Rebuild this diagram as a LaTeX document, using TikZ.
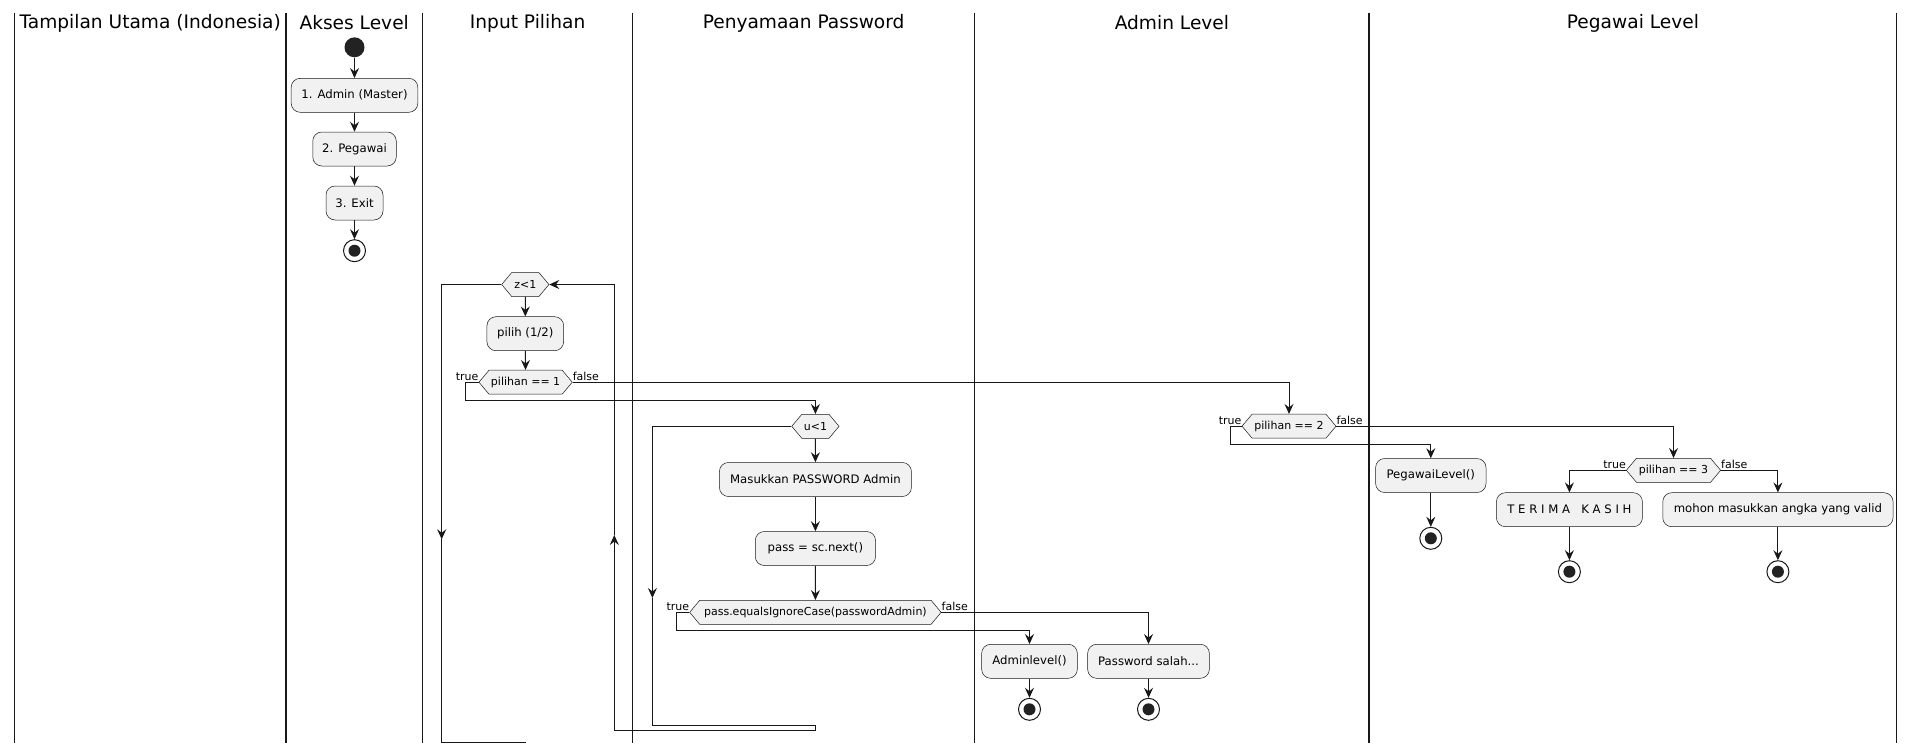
\documentclass[tikz,border=0pt]{standalone}
\usepackage{fontspec}
\setmainfont{DejaVu Sans}
\usetikzlibrary{arrows.meta,shapes.symbols}
\definecolor{plborder}{HTML}{181818}
\definecolor{plfill}{HTML}{F1F1F1}
\definecolor{pldot}{HTML}{222222}

\begin{document}
\begin{tikzpicture}[x=1pt, y=-1pt,
	every node/.style={font=\fontsize{11.7}{14}\selectfont, inner sep=0pt},
	action/.style={draw=plborder, line width=0.5pt, fill=plfill, rounded corners=9pt, minimum height=34pt},
	check/.style={signal, signal to=east and west, signal pointer angle=100, draw=plborder, line width=0.5pt, fill=plfill, minimum height=24pt, font=\fontsize{11}{13}\selectfont},
	lanetitle/.style={font=\fontsize{18.6}{22}\selectfont},
	branch/.style={font=\fontsize{11}{13}\selectfont},
	flow/.style={draw=plborder, line width=1pt, -{Stealth[length=10pt,width=9pt,inset=3.5pt]}},
	wire/.style={draw=plborder, line width=1pt},
	lane/.style={draw=plborder, line width=1.5pt},
	begin/.style={circle, fill=pldot, minimum size=20pt},
	finish/.style={circle, draw=plborder, line width=1pt, fill=white, minimum size=22pt,
		path picture={\fill[pldot] (path picture bounding box.center) circle (6pt);}},
	]

    \useasboundingbox (0,0) rectangle (1915,753);

    \foreach \lx in {14.7,285.8,422.6,632.6,974.6,1369.1,1896.7}
	\draw[lane] (\lx,12.7) -- (\lx,742.5);

    \node[lanetitle] (tutama) at (150.2,23) {Tampilan Utama (Indonesia)};
    \node[lanetitle] (takses) at (354.2,23) {Akses Level};
    \node[lanetitle] (tinput) at (527.6,23) {Input Pilihan};
    \node[lanetitle] (tpass) at (803.6,23) {Penyamaan Password};
    \node[lanetitle] (tadmin) at (1171.9,23) {Admin Level};
    \node[lanetitle] (tpegawai) at (1632.9,23) {Pegawai Level};

    \node[begin] (start) at (354.5,47.3) {};
    \node[action, minimum width=126.6pt] (admin) at (354.5,95.3) {1. Admin (Master)};
    \node[action, minimum width=83.5pt] (pegawai) at (354.5,149) {2. Pegawai};
    \node[action, minimum width=57pt] (exit) at (354.5,203) {3. Exit};
    \node[finish] (stopA) at (354.5,250.7) {};

    \draw[flow] (start) -- (admin);
    \draw[flow] (admin) -- (pegawai);
    \draw[flow] (pegawai) -- (exit);
    \draw[flow] (exit) -- (stopA);

    \node[check, minimum width=47.3pt] (zloop) at (525.3,284.5) {z<1};
    \node[action, minimum width=76.7pt] (pilih) at (525.3,333.7) {pilih (1/2)};
    \node[check, minimum width=93.3pt] (pil1) at (525.6,382.2) {pilihan == 1};
    \node[branch, anchor=base east] (t1) at ([yshift=2pt]pil1.west) {true};
    \node[branch, anchor=base west] (f1) at ([yshift=2pt]pil1.east) {false};

    \node[check, minimum width=47.3pt] (uloop) at (815.4,426.3) {u<1};
    \node[action, minimum width=192pt] (masuk) at (815.4,479.5) {Masukkan PASSWORD Admin};
    \node[action, minimum width=120.3pt] (next) at (815.4,548.5) {pass = sc.next()};
    \node[check, minimum width=251.5pt] (cek) at (815.4,612.3) {pass.equalsIgnoreCase(passwordAdmin)};
    \node[branch, anchor=base east] (t2) at ([yshift=2pt]cek.west) {true};
    \node[branch, anchor=base west] (f2) at ([yshift=2pt]cek.east) {false};

    \node[action, minimum width=95.7pt] (adminlvl) at (1029.5,661.3) {Adminlevel()};
    \node[action, minimum width=121.7pt] (salah) at (1148.5,661.3) {Password salah...};
    \node[finish] (stopB) at (1029.5,709.3) {};
    \node[finish] (stopC) at (1148.5,709.3) {};

    \node[check, minimum width=94pt] (pil2) at (1289,426.2) {pilihan == 2};
    \node[branch, anchor=base east] (t3) at ([yshift=2pt]pil2.west) {true};
    \node[branch, anchor=base west] (f3) at ([yshift=2pt]pil2.east) {false};
    \node[action, minimum width=110.4pt] (pegawailvl) at (1430.8,475.5) {PegawaiLevel()};
    \node[finish] (stopD) at (1430.8,538.3) {};

    \node[check, minimum width=94.3pt] (pil3) at (1673.5,470.3) {pilihan == 3};
    \node[branch, anchor=base east] (t4) at ([yshift=2pt]pil3.west) {true};
    \node[branch, anchor=base west] (f4) at ([yshift=2pt]pil3.east) {false};
    \node[action, minimum width=146pt] (terima) at (1569.4,509.7) {T E R I M A\ \ \ K A S I H};
    \node[action, minimum width=230.3pt] (mohon) at (1777.9,509.7) {mohon masukkan angka yang valid};
    \node[finish] (stopE) at (1569.4,571.7) {};
    \node[finish] (stopF) at (1777.9,571.7) {};

    \coordinate (zdown) at (441.7,539.3);
    \coordinate (zend) at (526,742.5);
    \coordinate (zup) at (614.3,535);
    \coordinate (udown) at (652.4,598);
    \coordinate (uend) at (815.4,725);

    \draw[flow] (zloop) -- (pilih);
    \draw[flow] (pilih) -- (pil1);
    \draw[flow] (zloop.west) -| (zdown);
    \draw[wire] (zdown) |- (zend);
    \draw[flow] (pil1.west) -- ++(-12.7,0) |- (uloop.north |- 0,400.3) -- (uloop.north);
    \draw[flow] (pil1.east) -| (pil2.north);

    \draw[flow] (uloop) -- (masuk);
    \draw[flow] (masuk) -- (next);
    \draw[flow] (next) -- (cek);
    \draw[flow] (uloop.west) -| (udown);
    \draw[wire] (udown) |- (uend);
    \draw[flow] (uend) -- ++(0,5) -| (zup);
    \draw[flow] (zup) |- (zloop.east);

    \draw[flow] (cek.west) -- ++(-12.6,0) |- (adminlvl.north |- 0,630) -- (adminlvl.north);
    \draw[flow] (cek.east) -| (salah.north);
    \draw[flow] (adminlvl) -- (stopB);
    \draw[flow] (salah) -- (stopC);

    \draw[flow] (pil2.west) -- ++(-11.5,0) |- (pegawailvl.north |- 0,444.3) -- (pegawailvl.north);
    \draw[flow] (pil2.east) -| (pil3.north);
    \draw[flow] (pegawailvl) -- (stopD);
    \draw[flow] (pil3.west) -| (terima.north);
    \draw[flow] (pil3.east) -| (mohon.north);
    \draw[flow] (terima) -- (stopE);
    \draw[flow] (mohon) -- (stopF);
    \end{tikzpicture}
\end{document}
